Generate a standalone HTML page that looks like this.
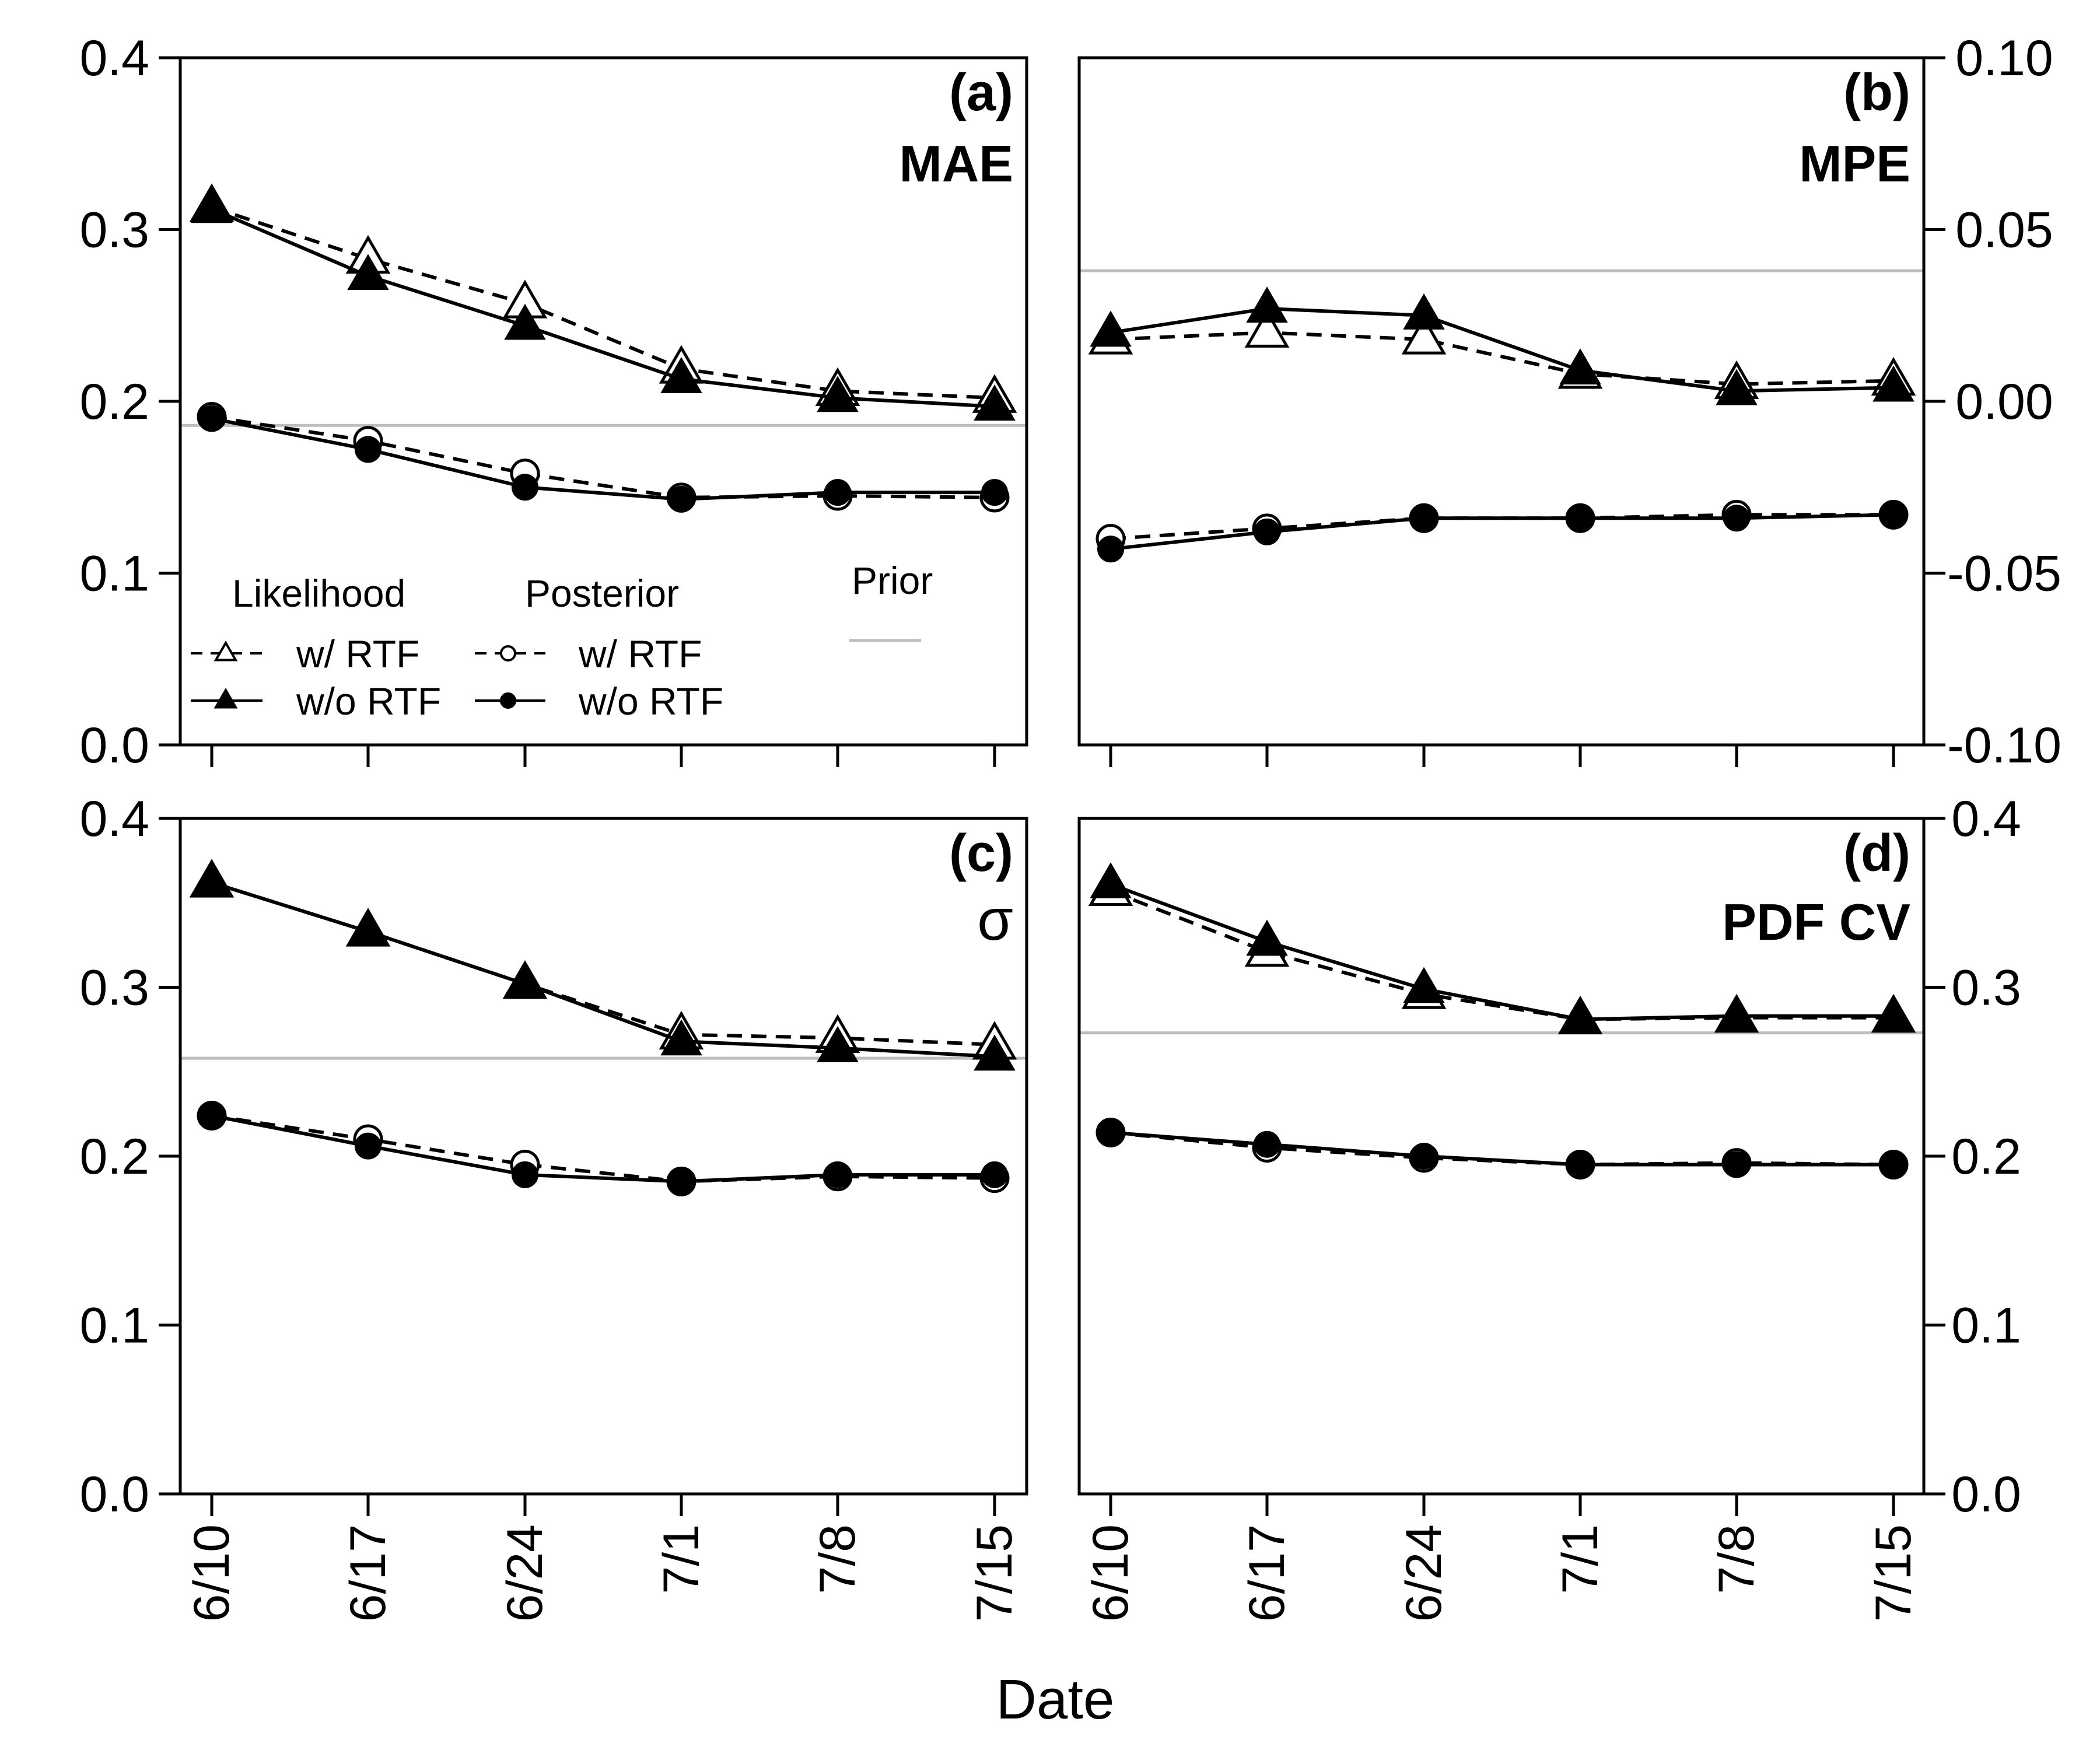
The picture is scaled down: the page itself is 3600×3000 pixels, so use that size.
<!DOCTYPE html>
<html><head><meta charset="utf-8"><style>
html,body{margin:0;padding:0;background:#fff;}
svg{display:block;font-family:"Liberation Sans",Arial,sans-serif;}
</style></head><body>
<svg id="chart" width="3600" height="3000" viewBox="0 0 3600 3000" xmlns="http://www.w3.org/2000/svg"></svg>
<script>
const dates = ["6/10","6/17","6/24","7/1","7/8","7/15"];
// Panel a: MAE
const maeLikW = [0.313,0.283,0.257,0.219,0.206,0.202];
const maeLikWo = [0.312,0.273,0.244,0.213,0.202,0.197];
const maePostW = [0.191,0.177,0.158,0.144,0.145,0.144];
const maePostWo = [0.190,0.172,0.150,0.143,0.147,0.147];
const maePrior = 0.186;
// Panel b: MPE
const mpeLikW = [0.018,0.020,0.018,0.008,0.005,0.006];
const mpeLikWo = [0.020,0.027,0.025,0.009,0.003,0.004];
const mpePostW = [-0.040,-0.037,-0.034,-0.034,-0.033,-0.033];
const mpePostWo = [-0.043,-0.038,-0.034,-0.034,-0.034,-0.033];
const mpePrior = 0.038;
// Panel c: sigma
const sigLikW = [0.362,0.333,0.302,0.272,0.270,0.266];
const sigLikWo = [0.362,0.333,0.302,0.268,0.264,0.259];
const sigPostW = [0.224,0.210,0.195,0.185,0.188,0.187];
const sigPostWo = [0.224,0.206,0.189,0.185,0.189,0.189];
const sigPrior = 0.258;
// Panel d: PDF CV
const cvLikW = [0.357,0.321,0.296,0.281,0.282,0.282];
const cvLikWo = [0.361,0.327,0.299,0.281,0.283,0.283];
const cvPostW = [0.214,0.205,0.199,0.195,0.196,0.195];
const cvPostWo = [0.214,0.207,0.200,0.195,0.195,0.195];
const cvPrior = 0.273;
const ticks04 = ["0.0","0.1","0.2","0.3","0.4"];
const ticksMPE = ["-0.10","-0.05","0.00","0.05","0.10"];

const NS="http://www.w3.org/2000/svg";
const svg=document.getElementById('chart');
function mk(tag,attrs,parent){const e=document.createElementNS(NS,tag);for(const k in attrs)e.setAttribute(k,attrs[k]);(parent||svg).appendChild(e);return e;}

function panel(cfg){
  const g=mk('g',{});
  
  
  const {L,R,T,B,ymin,ymax}=cfg;
  const xs=[363,631,900,1168,1436,1705].map(v=>v+(L-309));
  const xf=i=>xs[i];
  const yf=v=>B-(v-ymin)/(ymax-ymin)*(B-T);
  const pr=mk('line',{x1:L,x2:R,y1:yf(cfg.prior),y2:yf(cfg.prior),stroke:'#bdbdbd','stroke-width':5},g);
  
  
  function series(vals,dashed,marker,name){
    const pts=vals.map((v,i)=>xf(i)+','+yf(v)).join(' ');
    const pl=mk('polyline',{points:pts,fill:'none',stroke:'#000','stroke-width':6,'stroke-dasharray':dashed?'26 16':'none'},g);
    
    
    vals.forEach((v,i)=>{
      const x=xf(i),y=yf(v);let m;
      if(marker==='tri'||marker==='otri'){
        const s=34;
        m=mk('polygon',{points:`${x},${y-s*1.05} ${x-s},${y+s*0.68} ${x+s},${y+s*0.68}`,fill:marker==='tri'?'#000':'#fff',stroke:'#000','stroke-width':marker==='tri'?2:5},g);
      }else{
        m=mk('circle',{cx:x,cy:y,r:marker==='circ'?22:23,fill:marker==='circ'?'#000':'#fff',stroke:'#000','stroke-width':marker==='circ'?2:5},g);
      }
      
      
    });
  }
  series(cfg.likW,true,'otri','likelihood-w-rtf');
  series(cfg.likWo,false,'tri','likelihood-wo-rtf');
  series(cfg.postW,true,'ocirc','posterior-w-rtf');
  series(cfg.postWo,false,'circ','posterior-wo-rtf');
  const bx=mk('rect',{x:L,y:T,width:R-L,height:B-T,fill:'none',stroke:'#000','stroke-width':5},g);
  
  
  xs.forEach((x,i)=>{
    mk('line',{x1:x,x2:x,y1:B,y2:B+38,stroke:'#000','stroke-width':5},g);
    if(cfg.xlabels){
      const t=mk('text',{x:x,y:B+52,'font-size':86,'text-anchor':'end','dominant-baseline':'central',transform:`rotate(-90 ${x} ${B+52})`},g);
      t.textContent=dates[i];
      
      
    }
  });
  cfg.ticks.forEach((lab,i)=>{
    const v=ymin+(ymax-ymin)*i/(cfg.ticks.length-1);
    const y=yf(v);
    if(cfg.side==='left'){
      mk('line',{x1:L,x2:L-37,y1:y,y2:y,stroke:'#000','stroke-width':5},g);
      const t=mk('text',{x:256,y:y+30,'font-size':86,'text-anchor':'end'},g);
      t.textContent=lab;
      
      
    }else{
      mk('line',{x1:R,x2:R+37,y1:y,y2:y,stroke:'#000','stroke-width':5},g);
      const t=mk('text',{x:cfg.labX,y:y+30,'font-size':86,'text-anchor':'middle'},g);
      t.textContent=lab;
      
      
    }
  });
  const t1=mk('text',{x:R-23,y:T+90,'font-size':90,'font-weight':'bold','text-anchor':'end'},g);
  t1.textContent=cfg.tag;
  
  
  const t2=mk('text',{x:R-23,y:T+cfg.titleDy,'font-size':cfg.titleSize,'font-weight':cfg.titleBold?'bold':'normal','text-anchor':'end'},g);
  t2.textContent=cfg.title;
  
  
}

panel({name:'panel-a-mae',L:309,R:1760,T:99,B:1277,ymin:0,ymax:0.4,prior:maePrior,likW:maeLikW,likWo:maeLikWo,postW:maePostW,postWo:maePostWo,ticks:ticks04,side:'left',xlabels:false,tag:'(a)',title:'MAE',titleDy:212,titleSize:88,titleBold:true});
panel({name:'panel-b-mpe',L:1850,R:3298,T:99,B:1277,ymin:-0.1,ymax:0.1,prior:mpePrior,likW:mpeLikW,likWo:mpeLikWo,postW:mpePostW,postWo:mpePostWo,ticks:ticksMPE,side:'right',labX:3436,xlabels:false,tag:'(b)',title:'MPE',titleDy:212,titleSize:88,titleBold:true});
panel({name:'panel-c-sigma',L:309,R:1760,T:1403,B:2561,ymin:0,ymax:0.4,prior:sigPrior,likW:sigLikW,likWo:sigLikWo,postW:sigPostW,postWo:sigPostWo,ticks:ticks04,side:'left',xlabels:true,tag:'(c)',title:'σ',titleDy:208,titleSize:100,titleBold:false});
panel({name:'panel-d-pdfcv',L:1850,R:3298,T:1403,B:2561,ymin:0,ymax:0.4,prior:cvPrior,likW:cvLikW,likWo:cvLikWo,postW:cvPostW,postWo:cvPostWo,ticks:ticks04,side:'right',labX:3405,xlabels:true,tag:'(d)',title:'PDF CV',titleDy:208,titleSize:88,titleBold:true});

const xt=mk('text',{x:1809,y:2946,'font-size':96,'text-anchor':'middle'});
xt.textContent='Date';



const lg=mk('g',{});


function ltext(x,y,s,name){const t=mk('text',{x:x,y:y,'font-size':66,'text-anchor':'start'},lg);t.textContent=s;}
ltext(398,1040,'Likelihood','legend-likelihood-header');
ltext(900,1040,'Posterior','legend-posterior-header');
ltext(1460,1018,'Prior','legend-prior-header');
const pl=mk('line',{x1:1456,x2:1579,y1:1098,y2:1098,stroke:'#bdbdbd','stroke-width':5},lg);


function lentry(x1,x2,cx,y,dashed,marker,tx,name){
  const l=mk('line',{x1:x1,x2:x2,y1:y,y2:y,stroke:'#000','stroke-width':4,'stroke-dasharray':dashed?'20 14':'none'},lg);
  
  
  let m;
  if(marker.indexOf('tri')>=0){const s=17;m=mk('polygon',{points:`${cx},${y-s*1.05} ${cx-s},${y+s*0.68} ${cx+s},${y+s*0.68}`,fill:marker==='tri'?'#000':'#fff',stroke:'#000','stroke-width':4},lg);}
  else{m=mk('circle',{cx:cx,cy:y,r:12,fill:marker==='circ'?'#000':'#fff',stroke:'#000','stroke-width':4},lg);}
  
  
  ltext(tx,y+24,dashed?'w/ RTF':'w/o RTF',name+'-label');
}
lentry(327,450,387,1120,true,'otri',508,'legend-likelihood-w-rtf');
lentry(327,450,387,1201,false,'tri',508,'legend-likelihood-wo-rtf');
lentry(814,935,871,1120,true,'ocirc',992,'legend-posterior-w-rtf');
lentry(814,935,871,1201,false,'circ',992,'legend-posterior-wo-rtf');
</script>
</body></html>
